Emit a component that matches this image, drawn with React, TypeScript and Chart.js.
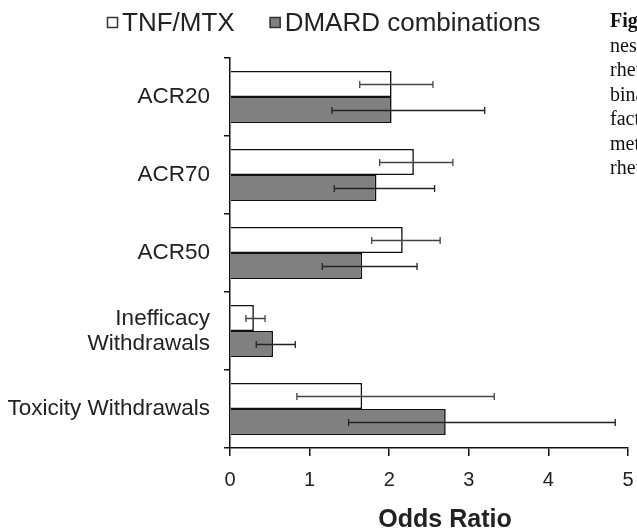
import React, { useEffect, useRef } from 'react';
import { Chart, registerables } from 'chart.js';

Chart.register(...registerables);

// ---- data ----
const categories: (string | string[])[] = [
  'ACR20',
  'ACR70',
  'ACR50',
  ['Inefficacy', 'Withdrawals'],
  'Toxicity Withdrawals',
];
const seriesNames = ['TNF/MTX', 'DMARD combinations'];
const tnfMtx = [2.03, 2.31, 2.17, 0.3, 1.66];
const tnfMtxLow = [1.63, 1.88, 1.78, 0.2, 0.84];
const tnfMtxHigh = [2.55, 2.8, 2.64, 0.44, 3.32];
const dmard = [2.03, 1.84, 1.66, 0.54, 2.71];
const dmardLow = [1.28, 1.31, 1.16, 0.33, 1.49];
const dmardHigh = [3.2, 2.57, 2.35, 0.82, 4.84];
const xTicks = [0, 1, 2, 3, 4, 5];
const xTitle = 'Odds Ratio';
const captionLines = [
  'Figure',
  'ness of',
  'rheumatoid',
  'binations',
  'factor',
  'methotrexate',
  'rheumatoid',
];

const SANS = "'Liberation Sans', Arial, Helvetica, sans-serif";
const TEXT = '#222';

export default function App() {
  const ref = useRef<HTMLCanvasElement>(null);

  useEffect(() => {
    if (!ref.current) return;
    const lows = [tnfMtxLow, dmardLow];
    const highs = [tnfMtxHigh, dmardHigh];
    const errColors = ['#444', '#222'];

    const errorBars = {
      id: 'errorBars',
      afterDatasetsDraw(chart: any) {
        const ctx = chart.ctx;
        const xs = chart.scales.x;
        ctx.save();
        chart.data.datasets.forEach((_ds: any, di: number) => {
          const meta = chart.getDatasetMeta(di);
          meta.data.forEach((bar: any, i: number) => {
            const y = Math.round(bar.y) + 0.5;
            const x1 = xs.getPixelForValue(lows[di][i]);
            const x2 = xs.getPixelForValue(highs[di][i]);
            ctx.strokeStyle = errColors[di];
            ctx.lineWidth = 1.3;
            ctx.beginPath();
            ctx.moveTo(x1, y);
            ctx.lineTo(x2, y);
            ctx.moveTo(x1, y - 3.5);
            ctx.lineTo(x1, y + 3.5);
            ctx.moveTo(x2, y - 3.5);
            ctx.lineTo(x2, y + 3.5);
            ctx.stroke();
          });
        });
        ctx.restore();
      },
    };

    const customLegend = {
      id: 'customLegend',
      afterDraw(chart: any) {
        const ctx = chart.ctx;
        ctx.save();
        ctx.font = `26px ${SANS}`;
        ctx.textBaseline = 'alphabetic';
        ctx.textAlign = 'left';
        let x = 107;
        chart.data.datasets.forEach((ds: any) => {
          ctx.fillStyle = ds.backgroundColor;
          ctx.fillRect(x, 17, 11, 11);
          ctx.strokeStyle = '#333';
          ctx.lineWidth = 1.5;
          ctx.strokeRect(x + 0.5, 17.5, 10, 10);
          ctx.fillStyle = TEXT;
          ctx.fillText(ds.label, x + 15, 31);
          x = x + 15 + ctx.measureText(ds.label).width + 35;
        });
        ctx.restore();
      },
    };

    const axisTitle = {
      id: 'axisTitle',
      afterDraw(chart: any) {
        const ctx = chart.ctx;
        const a = chart.chartArea;
        ctx.save();
        ctx.font = `bold 25px ${SANS}`;
        ctx.fillStyle = TEXT;
        ctx.textAlign = 'center';
        ctx.textBaseline = 'alphabetic';
        ctx.fillText(xTitle, (a.left + a.right) / 2 + 16, 527);
        ctx.restore();
      },
    };

    const chart = new Chart(ref.current, {
      type: 'bar',
      data: {
        labels: categories as any,
        datasets: [
          {
            label: seriesNames[0],
            data: tnfMtx,
            backgroundColor: '#ffffff',
            borderColor: '#111',
            borderWidth: 1.6,
            categoryPercentage: 0.667,
            barPercentage: 1,
          },
          {
            label: seriesNames[1],
            data: dmard,
            backgroundColor: '#808080',
            borderColor: '#111',
            borderWidth: 1.6,
            categoryPercentage: 0.667,
            barPercentage: 1,
          },
        ],
      },
      options: {
        indexAxis: 'y',
        responsive: false,
        animation: false,
        devicePixelRatio: 1,
        layout: { padding: { top: 58, right: 9, left: 0, bottom: 0 } },
        plugins: {
          legend: { display: false },
          tooltip: { enabled: false },
        },
        scales: {
          x: {
            min: 0,
            max: 5,
            afterBuildTicks: (s: any) => {
              s.ticks = xTicks.map((v) => ({ value: v }));
            },
            afterFit: (s: any) => {
              s.height = 82;
              s.paddingLeft = 0;
              s.paddingRight = 0;
            },
            grid: {
              drawOnChartArea: false,
              drawTicks: true,
              tickLength: 8,
              color: '#111',
              lineWidth: 1.5,
            },
            border: { display: true, color: '#111', width: 1.5 },
            ticks: {
              padding: 12,
              color: TEXT,
              font: { family: SANS, size: 20 },
            },
          },
          y: {
            afterFit: (s: any) => {
              s.width = 230;
            },
            grid: {
              drawOnChartArea: false,
              drawTicks: true,
              tickLength: 6,
              color: '#111',
              lineWidth: 1.5,
              offset: true,
            },
            border: { display: true, color: '#111', width: 1.5 },
            ticks: {
              padding: 14,
              color: TEXT,
              font: { family: SANS, size: 22.5, lineHeight: 1.12 },
            },
          },
        },
      } as any,
      plugins: [errorBars, customLegend, axisTitle],
    });
    return () => chart.destroy();
  }, []);

  return (
    <div
      style={{
        position: 'fixed',
        left: 0,
        top: 0,
        width: 637,
        height: 530,
        overflow: 'hidden',
        background: '#fff',
      }}
    >
      <canvas
        ref={ref}
        width={637}
        height={530}
        style={{ position: 'absolute', left: 0, top: 0, width: 637, height: 530 }}
      />
      <div
        style={{
          position: 'absolute',
          left: 610,
          top: 8,
          fontFamily: "'Liberation Serif', 'Times New Roman', serif",
          fontSize: 20,
          lineHeight: '24.5px',
          color: '#111',
          whiteSpace: 'nowrap',
        }}
      >
        {captionLines.map((t, i) => (
          <div key={i} style={{ fontWeight: i === 0 ? 'bold' : 'normal' }}>
            {t}
          </div>
        ))}
      </div>
    </div>
  );
}
